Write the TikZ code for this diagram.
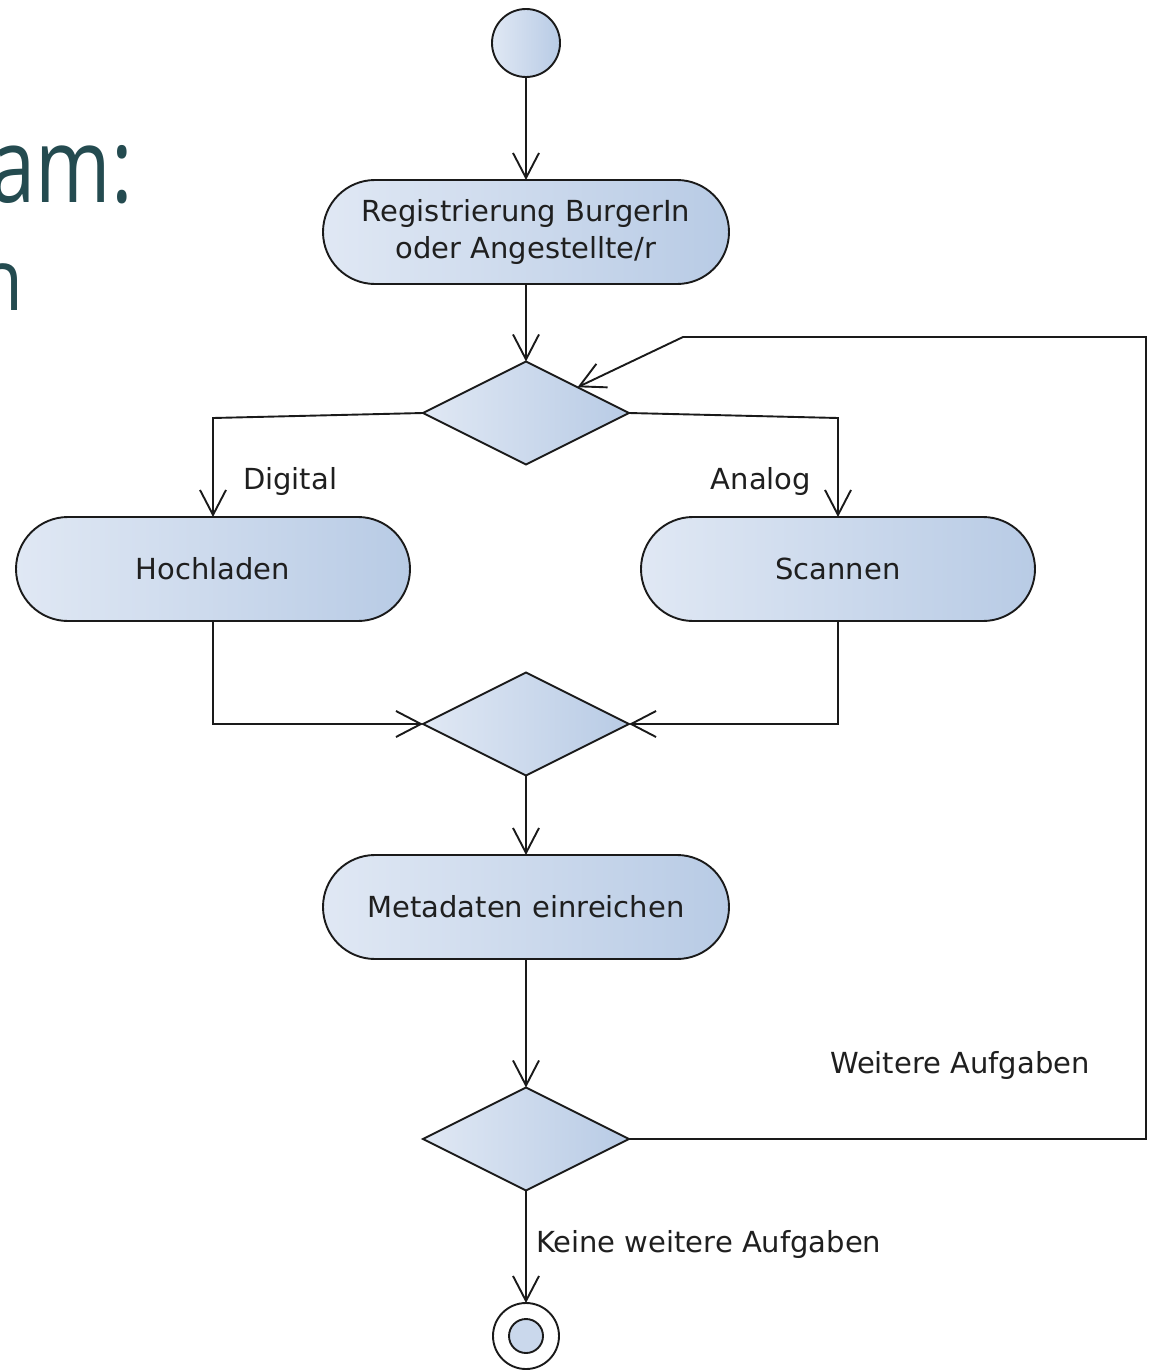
\documentclass[tikz,border=0pt]{standalone}
\usepackage{graphicx}
\usepackage{fontspec}
\setmainfont{DejaVu Sans}
\newfontfamily\titlefont{Open Sans}
\usetikzlibrary{shapes.geometric,arrows.meta}
\definecolor{fillL}{HTML}{E0E8F4}
\definecolor{fillR}{HTML}{B8CBE5}
\definecolor{fillM}{HTML}{CAD8EC}
\definecolor{titlecol}{HTML}{244B50}
\definecolor{linecol}{HTML}{1A1A1A}
\definecolor{txtcol}{HTML}{1F1F1F}
\begin{document}
\begin{tikzpicture}[x=1pt,y=-1pt,
  every node/.style={inner sep=0pt, outer sep=0pt},
  myfill/.style={left color=fillL, right color=fillR},
  action/.style={draw=linecol, line width=1.9pt, myfill, rounded corners=52pt,
    minimum height=104pt, align=center, font=\fontsize{29}{37}\selectfont, text=txtcol},
  decision/.style={diamond, draw=linecol, line width=1.9pt, myfill,
    minimum width=206pt, minimum height=103pt, aspect=2},
  conn/.style={line width=1.9pt, draw=linecol,
    -{Straight Barb[length=25pt,width=26pt,line width=1.9pt]}},
  lbl/.style={font=\fontsize{29}{35}\selectfont, text=txtcol}
]
\useasboundingbox (0,0) rectangle (1148,1370);

% title fragments
\node[font=\titlefont\fontsize{104}{104}\selectfont, text=titlecol, anchor=base east] (t1) at (133,202) {\scalebox{0.78}[1]{am:}};
\node[font=\titlefont\fontsize{86}{86}\selectfont, text=titlecol, anchor=base east] (t2) at (23,310) {\scalebox{0.85}[1]{n}};

% nodes
\node[circle, draw=linecol, line width=1.9pt, myfill, minimum size=68pt] (start) at (526,43) {};
\node[action, minimum width=406pt] (reg) at (526,232) {Registrierung BurgerIn\\oder Angestellte/r};
\node[decision] (d1) at (526,413) {};
\node[action, minimum width=394pt] (hoch) at (213,569) {Hochladen};
\node[action, minimum width=394pt] (scan) at (838,569) {Scannen};
\node[decision] (d2) at (526,724) {};
\node[action, minimum width=406pt] (meta) at (526,907) {Metadaten einreichen};
\node[decision] (d3) at (526,1139) {};
\node[circle, draw=linecol, line width=1.9pt, fill=white, minimum size=66pt] (end) at (526,1336) {};
\node[circle, draw=linecol, line width=1.9pt, fill=fillM, minimum size=34pt] (endin) at (end) {};

% helper coordinates
\coordinate (cl) at (213,418);
\coordinate (cr) at (838,418);
\coordinate (lp1) at (1146,1139);
\coordinate (lp2) at (1146,337);
\coordinate (lp3) at (683,337);

% connectors
\draw[conn] (start) -- (reg);
\draw[conn] (reg) -- (d1);
\draw[conn] (d1.west) -- (cl) -- (hoch.north);
\draw[conn] (d1.east) -- (cr) -- (scan.north);
\draw[conn] (hoch.south) |- (d2.west);
\draw[conn] (scan.south) |- (d2.east);
\draw[conn] (d2) -- (meta);
\draw[conn] (meta) -- (d3);
\draw[conn] (d3.east) -- (lp1) -- (lp2) -- (lp3) -- (d1.north east);
\draw[conn] (d3) -- (end);

% labels
\node[lbl, anchor=base west] (ldig) at (243,489) {Digital};
\node[lbl, anchor=base east] (lana) at (811,489) {Analog};
\node[lbl, anchor=base west] (lwei) at (830,1073) {Weitere Aufgaben};
\node[lbl, anchor=base west] (lkei) at (536,1252) {Keine weitere Aufgaben};
\end{tikzpicture}
\end{document}
